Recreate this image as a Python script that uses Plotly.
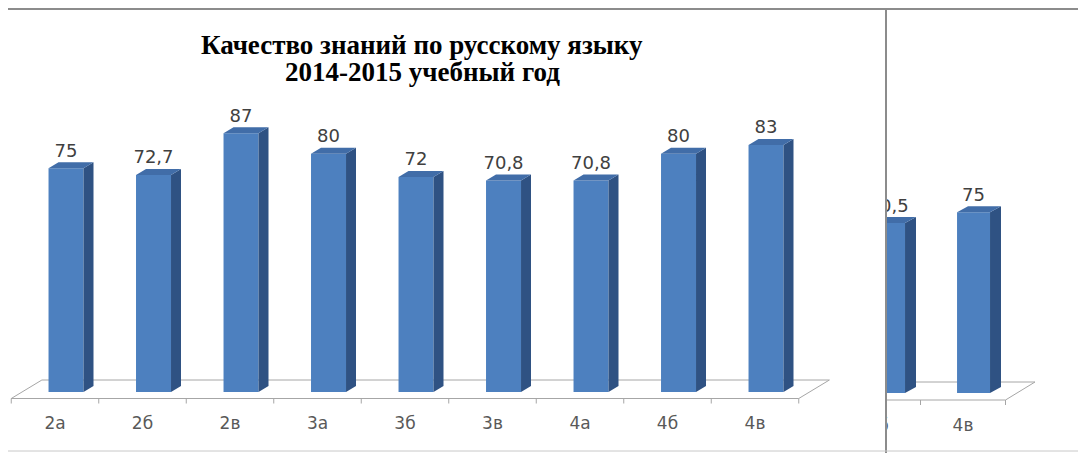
import plotly.graph_objects as go

# ---- data ----
categories = ["2а", "2б", "2в", "3а", "3б", "3в", "4а", "4б", "4в"]
values = [75, 72.7, 87, 80, 72, 70.8, 70.8, 80, 83]
title_lines = ["Качество знаний по русскому языку", "2014-2015 учебный год"]

# second (overlapping, partly hidden) chart on the right
categories2 = ["4б", "4в"]
values2 = [70.5, 75]

# page body has an 8px margin, so the figure is 8px smaller than the window
W, H = 1078, 445
FRONT = "#4D80BF"
SIDE = "#2F5283"
TOP = "#416DA8"
FLOOR = "#A6A6A6"


def fmt(v):
    return f"{v:g}".replace(".", ",")


fig = go.Figure()


def add_chart(cats, vals, xa, ya, off, hw, dx, dy, base, f_front, f_back,
              back_dx, tick_len, lab_y, lab_extra):
    n = len(cats)
    xs = list(range(n))
    # floor outline (drawn first, so the bars hide its back edge)
    fl_x = [-0.5, n - 0.5, n - 0.5 + back_dx, None, -0.5 + back_dx, n - 0.5 + back_dx,
            None, -0.5, -0.5 + back_dx]
    fl_y = [f_front, f_front, f_back, None, f_back, f_back, None, f_front, f_back]
    # ticks at category boundaries
    for i in range(n + 1):
        b = i - 0.5
        fl_x += [None, b, b]
        fl_y += [None, f_front, f_front - tick_len]
    fig.add_trace(go.Scatter(x=fl_x, y=fl_y, mode="lines",
                             line=dict(color=FLOOR, width=1),
                             xaxis=xa, yaxis=ya, hoverinfo="skip", showlegend=False))
    # front, side and top faces of each 3-D column
    fx, fy, sx, sy, tx, ty = [], [], [], [], [], []
    for x, v in zip(xs, vals):
        xl, xr = x + off - hw, x + off + hw
        fx += [xl, xr, xr, xl, xl, None]
        fy += [base, base, v, v, base, None]
        sx += [xr, xr + dx, xr + dx, xr, xr, None]
        sy += [base, base + dy, v + dy, v, base, None]
        tx += [xl, xr, xr + dx, xl + dx, xl, None]
        ty += [v, v, v + dy, v + dy, v, None]
    for px_, py_, col in ((fx, fy, FRONT), (sx, sy, SIDE), (tx, ty, TOP)):
        fig.add_trace(go.Scatter(x=px_, y=py_, fill="toself", fillcolor=col, mode="lines",
                                 line=dict(width=0, color=col), xaxis=xa, yaxis=ya,
                                 hoverinfo="skip", showlegend=False))
    # value labels
    fig.add_trace(go.Scatter(x=[x + off for x in xs], y=[v + dy + lab_extra for v in vals],
                             mode="text", text=[fmt(v) for v in vals],
                             textposition="middle center",
                             textfont=dict(family="DejaVu Sans", size=18, color="#404040"),
                             xaxis=xa, yaxis=ya, hoverinfo="skip", showlegend=False))
    # category labels
    fig.add_trace(go.Scatter(x=xs, y=[lab_y] * n, mode="text", text=cats,
                             textposition="middle center",
                             textfont=dict(family="DejaVu Sans", size=17, color="#595959"),
                             xaxis=xa, yaxis=ya, hoverinfo="skip", showlegend=False))


# main chart (figure px): px = 47 + 87.5*x ; py = 379 - 2.917*v
k1 = 2.917
add_chart(categories, values, "x", "y", off=0.126, hw=0.2, dx=0.114, dy=6 / k1,
          base=-5 / k1, f_front=-11.5 / k1, f_back=7 / k1, back_dx=0.35,
          tick_len=5 / k1, lab_y=-38 / k1, lab_extra=10 / k1)

# right chart (figure px): px = 870 + 85*x ; py = 385 - 2.41*v
k2 = 2.41
add_chart(categories2, values2, "x2", "y2", off=0.124, hw=0.194, dx=0.129, dy=6 / k2,
          base=0, f_front=-7 / k2, f_back=11 / k2, back_dx=0.347,
          tick_len=5 / k2, lab_y=-34 / k2, lab_extra=10 / k2)

ax = dict(visible=False, fixedrange=True)
SPLIT = 878
fig.update_layout(
    width=W, height=H,
    margin=dict(l=0, r=0, t=0, b=0),
    paper_bgcolor="white", plot_bgcolor="rgba(0,0,0,0)",
    xaxis=dict(ax, domain=[0, SPLIT / W], range=[-47 / 87.5, (SPLIT - 47) / 87.5]),
    yaxis=dict(ax, domain=[0, 1], range=[(379 - H) / k1, 379 / k1]),
    xaxis2=dict(ax, domain=[(SPLIT + 1) / W, 1], anchor="y2",
                range=[(SPLIT + 1 - 870) / 85, (W - 870) / 85]),
    yaxis2=dict(ax, domain=[0, 1], anchor="x2", range=[(385 - H) / k2, 385 / k2]),
    annotations=[
        dict(text="<b>" + title_lines[0] + "</b>", xref="paper", yref="paper",
             x=414 / W, y=1 - 37 / H, xanchor="center", yanchor="middle",
             showarrow=False, font=dict(family="Liberation Serif", size=27, color="#000000")),
        dict(text="<b>" + title_lines[1] + "</b>", xref="paper", yref="paper",
             x=414 / W, y=1 - 64 / H, xanchor="center", yanchor="middle",
             showarrow=False, font=dict(family="Liberation Serif", size=27, color="#000000")),
    ],
    shapes=[
        dict(type="line", xref="paper", yref="paper", x0=0, x1=1,
             y0=1 - 1 / H, y1=1 - 1 / H, line=dict(color="#8C8C8C", width=2)),
        dict(type="line", xref="paper", yref="paper", x0=SPLIT / W, x1=SPLIT / W,
             y0=0, y1=1, line=dict(color="#8C8C8C", width=2)),
        dict(type="line", xref="paper", yref="paper", x0=0, x1=1,
             y0=1 - 443 / H, y1=1 - 443 / H, line=dict(color="#C8C8C8", width=1)),
    ],
)

fig.write_html("out.html")
